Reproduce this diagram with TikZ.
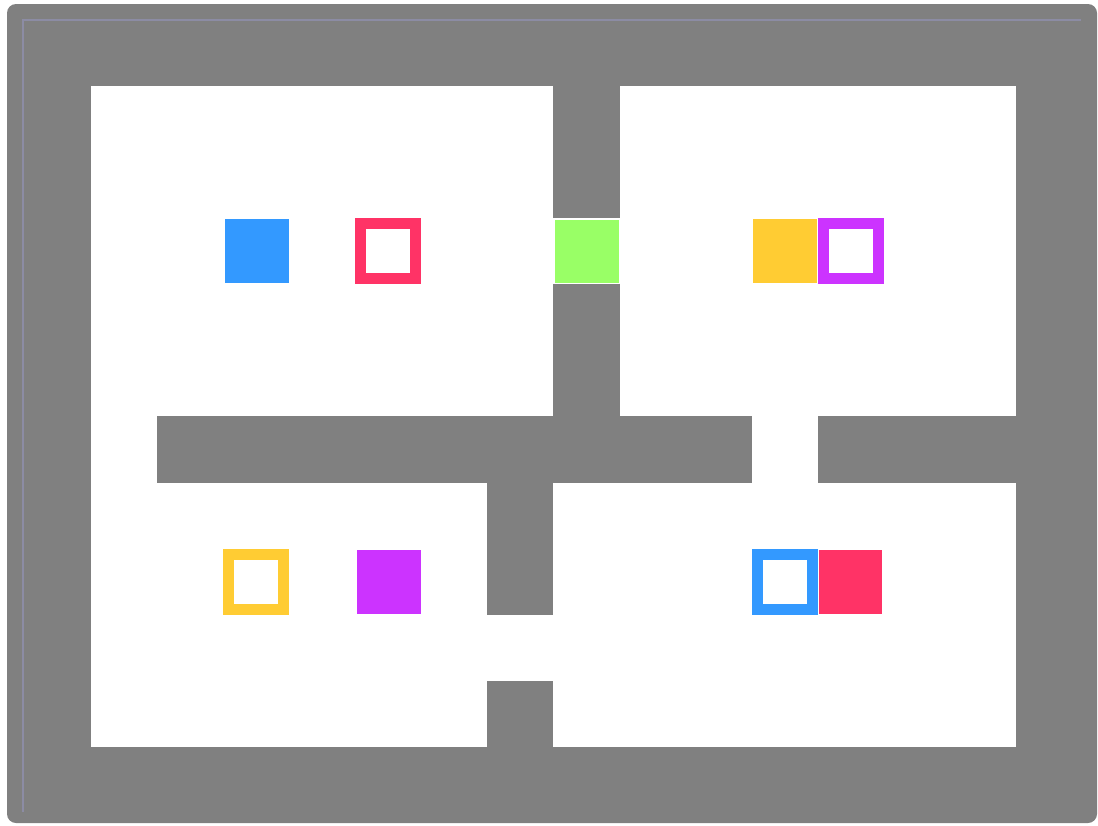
\documentclass[tikz,border=0pt]{standalone}
\definecolor{wallgray}{HTML}{808080}
\definecolor{kblue}{HTML}{3399FF}
\definecolor{kred}{HTML}{FF3366}
\definecolor{kyellow}{HTML}{FFCC33}
\definecolor{kpurple}{HTML}{CC33FF}
\definecolor{kgreen}{HTML}{99FF66}
\definecolor{edgeline}{HTML}{8C8CA4}
\begin{document}
\begin{tikzpicture}[x=1pt,y=-1pt,
  wall/.style={fill=wallgray},
  keyfill/.style={fill=#1},
  keybox/.style={draw=#1,line width=11pt}]
\useasboundingbox (0,0) rectangle (1098,825);
% outer gray frame
\fill[wallgray,rounded corners=9pt] (7,4) rectangle (1097,823);
\draw[edgeline,line width=1.5pt] (23,812) -- (23,20) -- (1081,20);
% interior floor
\fill[white] (91,86) rectangle (1016,747);
% inner walls
\fill[wall] (553,86) rectangle (620,218);
\fill[wall] (553,284) rectangle (620,416);
\fill[wall] (157,416) rectangle (752,483);
\fill[wall] (818,416) rectangle (1016,483);
\fill[wall] (487,483) rectangle (553,615);
\fill[wall] (487,681) rectangle (553,747);
% green door
\fill[kgreen] (555,219.5) rectangle (618.5,282.5);
% filled squares
\fill[kblue] (225,219) rectangle (289,283);
\fill[kyellow] (752.5,219) rectangle (816.5,283);
\fill[kpurple] (357,550) rectangle (421,614);
\fill[kred] (818.5,550) rectangle (882,614);
% outlined squares
\draw[keybox=kred] (360.5,223.5) rectangle (415.5,278.5);
\draw[keybox=kpurple] (823.5,223.5) rectangle (878.5,278.5);
\draw[keybox=kyellow] (228.5,554.5) rectangle (283.5,609.5);
\draw[keybox=kblue] (757.5,554.5) rectangle (812.5,609.5);
\end{tikzpicture}
\end{document}
